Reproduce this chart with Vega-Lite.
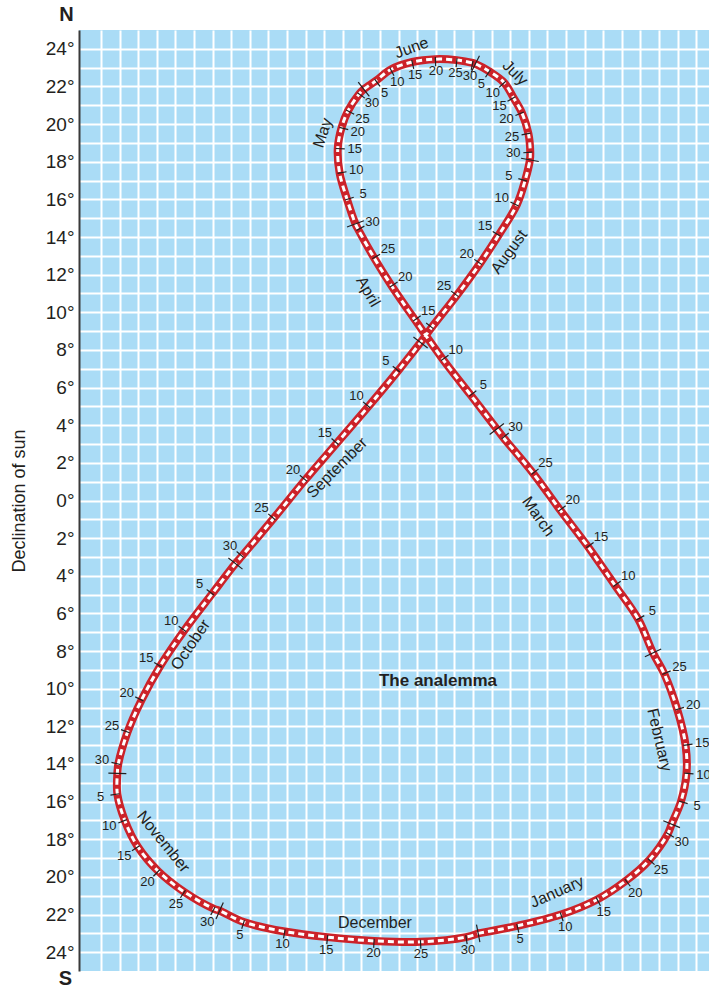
{
  "$schema": "https://vega.github.io/schema/vega-lite/v6.json",
  "width": 630,
  "height": 941,
  "autosize": {"type": "none"},
  "padding": {"left": 79, "top": 30, "right": 0, "bottom": 17},
  "background": "white",
  "config": {"font": "Liberation Sans", "view": {"stroke": null, "fill": "#aadcf6"}},
  "datasets": {
    "sun": [
      {"m":1,"d":1,"doy":1,"e":-3.0,"dec":-23.0},{"m":1,"d":5,"doy":5,"e":-5.1,"dec":-22.6},{"m":1,"d":10,"doy":10,"e":-7.45,"dec":-22.0},{"m":1,"d":15,"doy":15,"e":-9.4,"dec":-21.2},{"m":1,"d":20,"doy":20,"e":-10.95,"dec":-20.2},{"m":1,"d":25,"doy":25,"e":-12.2,"dec":-19.1},{"m":1,"d":30,"doy":30,"e":-13.2,"dec":-17.7},
      {"m":2,"d":1,"doy":32,"e":-13.4,"dec":-17.2},{"m":2,"d":5,"doy":36,"e":-13.9,"dec":-16.0},{"m":2,"d":10,"doy":41,"e":-14.2,"dec":-14.5},{"m":2,"d":15,"doy":46,"e":-14.15,"dec":-13.0},{"m":2,"d":20,"doy":51,"e":-13.7,"dec":-11.1},{"m":2,"d":25,"doy":56,"e":-13.0,"dec":-9.2},
      {"m":3,"d":1,"doy":60,"e":-12.4,"dec":-8.1},{"m":3,"d":5,"doy":64,"e":-11.6,"dec":-6.3},{"m":3,"d":10,"doy":69,"e":-10.35,"dec":-4.5},{"m":3,"d":15,"doy":74,"e":-8.9,"dec":-2.45},{"m":3,"d":20,"doy":79,"e":-7.4,"dec":-0.5},{"m":3,"d":25,"doy":84,"e":-5.95,"dec":1.45},{"m":3,"d":30,"doy":89,"e":-4.35,"dec":3.35},
      {"m":4,"d":1,"doy":91,"e":-4.0,"dec":3.8},{"m":4,"d":5,"doy":95,"e":-2.6,"dec":5.6},{"m":4,"d":10,"doy":100,"e":-1.1,"dec":7.5},{"m":4,"d":15,"doy":105,"e":0.4,"dec":9.6},{"m":4,"d":20,"doy":110,"e":1.65,"dec":11.4},{"m":4,"d":25,"doy":115,"e":2.6,"dec":12.9},{"m":4,"d":30,"doy":120,"e":3.45,"dec":14.4},
      {"m":5,"d":1,"doy":121,"e":3.6,"dec":14.7},{"m":5,"d":5,"doy":125,"e":4.05,"dec":16.0},{"m":5,"d":10,"doy":130,"e":4.45,"dec":17.4},{"m":5,"d":15,"doy":135,"e":4.55,"dec":18.7},{"m":5,"d":20,"doy":140,"e":4.35,"dec":19.8},{"m":5,"d":25,"doy":145,"e":4.0,"dec":20.7},{"m":5,"d":30,"doy":150,"e":3.4,"dec":21.6},
      {"m":6,"d":1,"doy":152,"e":3.15,"dec":21.85},{"m":6,"d":5,"doy":156,"e":2.5,"dec":22.3},{"m":6,"d":10,"doy":161,"e":1.7,"dec":22.9},{"m":6,"d":15,"doy":166,"e":0.55,"dec":23.3},{"m":6,"d":20,"doy":171,"e":-0.7,"dec":23.45},{"m":6,"d":25,"doy":176,"e":-1.85,"dec":23.4},{"m":6,"d":30,"doy":181,"e":-2.7,"dec":23.25},
      {"m":7,"d":1,"doy":182,"e":-2.85,"dec":23.2},{"m":7,"d":5,"doy":186,"e":-3.6,"dec":22.8},{"m":7,"d":10,"doy":191,"e":-4.4,"dec":22.2},{"m":7,"d":15,"doy":196,"e":-4.9,"dec":21.4},{"m":7,"d":20,"doy":201,"e":-5.35,"dec":20.6},{"m":7,"d":25,"doy":206,"e":-5.7,"dec":19.5},{"m":7,"d":30,"doy":211,"e":-5.8,"dec":18.5},
      {"m":8,"d":1,"doy":213,"e":-5.78,"dec":18.1},{"m":8,"d":5,"doy":217,"e":-5.52,"dec":17.0},{"m":8,"d":10,"doy":222,"e":-5.07,"dec":15.7},{"m":8,"d":15,"doy":227,"e":-4.1,"dec":14.1},{"m":8,"d":20,"doy":232,"e":-3.1,"dec":12.6},{"m":8,"d":25,"doy":237,"e":-1.85,"dec":10.9},{"m":8,"d":30,"doy":242,"e":-0.5,"dec":9.2},
      {"m":9,"d":1,"doy":244,"e":0.1,"dec":8.4},{"m":9,"d":5,"doy":248,"e":1.3,"dec":6.9},{"m":9,"d":10,"doy":253,"e":2.9,"dec":5.0},{"m":9,"d":15,"doy":258,"e":4.6,"dec":3.05},{"m":9,"d":20,"doy":263,"e":6.3,"dec":1.1},{"m":9,"d":25,"doy":268,"e":8.0,"dec":-0.95},{"m":9,"d":30,"doy":273,"e":9.7,"dec":-2.95},
      {"m":10,"d":1,"doy":274,"e":10.05,"dec":-3.35},{"m":10,"d":5,"doy":278,"e":11.3,"dec":-4.95},{"m":10,"d":10,"doy":283,"e":12.8,"dec":-6.9},{"m":10,"d":15,"doy":288,"e":14.1,"dec":-8.8},{"m":10,"d":20,"doy":293,"e":15.1,"dec":-10.6},{"m":10,"d":25,"doy":298,"e":15.85,"dec":-12.3},{"m":10,"d":30,"doy":303,"e":16.35,"dec":-14.0},
      {"m":11,"d":1,"doy":305,"e":16.4,"dec":-14.5},{"m":11,"d":5,"doy":309,"e":16.4,"dec":-15.6},{"m":11,"d":10,"doy":314,"e":16.0,"dec":-17.0},{"m":11,"d":15,"doy":319,"e":15.3,"dec":-18.4},{"m":11,"d":20,"doy":324,"e":14.2,"dec":-19.7},{"m":11,"d":25,"doy":329,"e":12.8,"dec":-20.8},{"m":11,"d":30,"doy":334,"e":11.2,"dec":-21.7},
      {"m":12,"d":1,"doy":335,"e":10.9,"dec":-21.8},{"m":12,"d":5,"doy":339,"e":9.6,"dec":-22.4},{"m":12,"d":10,"doy":344,"e":7.4,"dec":-22.9},{"m":12,"d":15,"doy":349,"e":5.1,"dec":-23.2},{"m":12,"d":20,"doy":354,"e":2.6,"dec":-23.4},{"m":12,"d":25,"doy":359,"e":0.1,"dec":-23.45},{"m":12,"d":30,"doy":364,"e":-2.35,"dec":-23.2},
      {"m":1,"d":1,"doy":366,"e":-3.0,"dec":-23.0}
    ],
    "months": [
      {"name":"June","e":0.575,"dec":24.05,"angle":-20},
      {"name":"July","e":-4.98,"dec":22.72,"angle":45},
      {"name":"May","e":5.36,"dec":19.53,"angle":-72},
      {"name":"August","e":-4.66,"dec":13.21,"angle":-54},
      {"name":"April","e":2.92,"dec":11.1,"angle":60},
      {"name":"March","e":-6.23,"dec":-0.85,"angle":55},
      {"name":"September","e":4.59,"dec":1.74,"angle":-45},
      {"name":"October","e":12.46,"dec":-7.67,"angle":-56},
      {"name":"November","e":13.93,"dec":-18.13,"angle":51},
      {"name":"December","e":2.55,"dec":-22.46,"angle":0},
      {"name":"January","e":-7.24,"dec":-20.8,"angle":-24},
      {"name":"February","e":-12.74,"dec":-12.72,"angle":77}
    ],
    "notes": [
      {"text":"The analemma","e":-0.84,"dec":-9.58,"size":"t"},
      {"text":"N","e":19.13,"dec":25.8,"size":"c"},
      {"text":"S","e":19.19,"dec":-25.43,"size":"c"}
    ]
  },
  "layer": [
    {
      "data": {"name": "sun"},
      "mark": {"type": "line", "interpolate": "catmull-rom", "color": "#cc2229", "strokeWidth": 8, "strokeCap": "round"},
      "encoding": {
        "x": {"field": "e", "type": "quantitative",
          "scale": {"domain": [-15.409, 18.462], "reverse": true, "nice": false, "zero": false},
          "axis": {"values": [17.28,16.28,15.28,14.28,13.28,12.28,11.28,10.28,9.28,8.28,7.28,6.28,5.28,4.28,3.28,2.28,1.28,0.28,-0.72,-1.72,-2.72,-3.72,-4.72,-5.72,-6.72,-7.72,-8.72,-9.72,-10.72,-11.72,-12.72,-13.72,-14.72],
            "tickCount": 100, "grid": true, "gridColor": "white", "gridWidth": 2, "gridOpacity": 1, "labels": false, "ticks": false, "domain": false, "title": null}},
        "y": {"field": "dec", "type": "quantitative",
          "scale": {"domain": [-25, 25], "nice": false, "zero": false},
          "axis": {"values": [-24,-23,-22,-21,-20,-19,-18,-17,-16,-15,-14,-13,-12,-11,-10,-9,-8,-7,-6,-5,-4,-3,-2,-1,0,1,2,3,4,5,6,7,8,9,10,11,12,13,14,15,16,17,18,19,20,21,22,23,24],
            "tickCount": 100, "labelOverlap": false,
            "grid": true, "gridColor": "white", "gridWidth": 2, "gridOpacity": 1, "ticks": false,
            "labelExpr": "datum.value % 2 == 0 ? abs(datum.value) + '°' : ''",
            "labelFontSize": 19, "labelColor": "#231f20", "labelPadding": 5,
            "domain": true, "domainColor": "#3a3a3a", "domainWidth": 2,
            "title": "Declination of sun", "titleFontSize": 18, "titleFontWeight": "normal", "titleColor": "#231f20", "titlePadding": 17}},
        "order": {"field": "doy", "type": "quantitative"}
      }
    },
    {
      "data": {"name": "sun"},
      "mark": {"type": "line", "interpolate": "catmull-rom", "color": "white", "strokeWidth": 3, "strokeDash": [6, 4]},
      "encoding": {
        "x": {"field": "e", "type": "quantitative"},
        "y": {"field": "dec", "type": "quantitative"},
        "order": {"field": "doy", "type": "quantitative"}
      }
    },
    {
      "mark": {"type": "rule", "color": "#3a3a3a", "strokeWidth": 2},
      "encoding": {"y": {"datum": 25, "type": "quantitative"}}
    },
    {
      "mark": {"type": "rule", "color": "#3a3a3a", "strokeWidth": 2},
      "encoding": {"y": {"datum": -25, "type": "quantitative"}}
    },
    {
      "data": {"name": "sun"},
      "transform": [
        {"window": [{"op": "lag", "field": "e", "as": "e0"}, {"op": "lead", "field": "e", "as": "e1"}, {"op": "lag", "field": "dec", "as": "y0"}, {"op": "lead", "field": "dec", "as": "y1"}], "sort": [{"field": "doy"}]},
        {"filter": "datum.doy < 366"},
        {"calculate": "atan2(-((datum.y1 == null ? datum.dec : datum.y1) - (datum.y0 == null ? datum.dec : datum.y0)) * 18.81, -((datum.e1 == null ? datum.e : datum.e1) - (datum.e0 == null ? datum.e : datum.e0)) * 18.6)", "as": "a"},
        {"calculate": "datum.a * 180 / PI", "as": "ang"},
        {"calculate": "datum.d == 1 ? 'long' : 'short'", "as": "kind"}
      ],
      "layer": [
        {
          "transform": [{"filter": "datum.kind == 'long'"}],
          "mark": {"type": "point", "shape": "M0,-1L0,1", "size": 324, "filled": false, "stroke": "#231f20", "strokeWidth": 1.2, "opacity": 1},
          "encoding": {
            "x": {"field": "e", "type": "quantitative"},
            "y": {"field": "dec", "type": "quantitative"},
            "angle": {"field": "ang", "type": "quantitative", "scale": null}
          }
        },
        {
          "transform": [{"filter": "datum.kind == 'short'"}],
          "mark": {"type": "point", "shape": "M0,-0.3L0,1", "size": 196, "filled": false, "stroke": "#231f20", "strokeWidth": 1.2, "opacity": 1},
          "encoding": {
            "x": {"field": "e", "type": "quantitative"},
            "y": {"field": "dec", "type": "quantitative"},
            "angle": {"field": "ang", "type": "quantitative", "scale": null}
          }
        },
        {
          "transform": [
            {"filter": "datum.kind == 'short' && datum.doy != 242"},
            {"calculate": "-sin(datum.a)", "as": "nx"},
            {"calculate": "cos(datum.a)", "as": "ny"},
            {"calculate": "12 + 5 * abs(datum.nx)", "as": "off"},
            {"calculate": "datum.e - datum.off * datum.nx / 18.6", "as": "lx"},
            {"calculate": "datum.dec - datum.off * datum.ny / 18.81", "as": "ly"}
          ],
          "mark": {"type": "text", "fontSize": 13, "color": "#231f20", "align": "center", "baseline": "middle"},
          "encoding": {
            "x": {"field": "lx", "type": "quantitative"},
            "y": {"field": "ly", "type": "quantitative"},
            "text": {"field": "d", "type": "nominal"}
          }
        }
      ]
    },
    {
      "data": {"name": "months"},
      "mark": {"type": "text", "fontSize": 16, "color": "#231f20", "align": "center", "baseline": "middle"},
      "encoding": {
        "x": {"field": "e", "type": "quantitative"},
        "y": {"field": "dec", "type": "quantitative"},
        "text": {"field": "name", "type": "nominal"},
        "angle": {"field": "angle", "type": "quantitative", "scale": null}
      }
    },
    {
      "data": {"name": "notes"},
      "transform": [{"filter": "datum.size == 't'"}],
      "mark": {"type": "text", "fontSize": 17, "fontWeight": "bold", "color": "#231f20", "align": "center", "baseline": "middle"},
      "encoding": {
        "x": {"field": "e", "type": "quantitative"},
        "y": {"field": "dec", "type": "quantitative"},
        "text": {"field": "text", "type": "nominal"}
      }
    },
    {
      "data": {"name": "notes"},
      "transform": [{"filter": "datum.size == 'c'"}],
      "mark": {"type": "text", "fontSize": 20, "fontWeight": "bold", "color": "#231f20", "align": "center", "baseline": "middle"},
      "encoding": {
        "x": {"field": "e", "type": "quantitative"},
        "y": {"field": "dec", "type": "quantitative"},
        "text": {"field": "text", "type": "nominal"}
      }
    }
  ]
}
